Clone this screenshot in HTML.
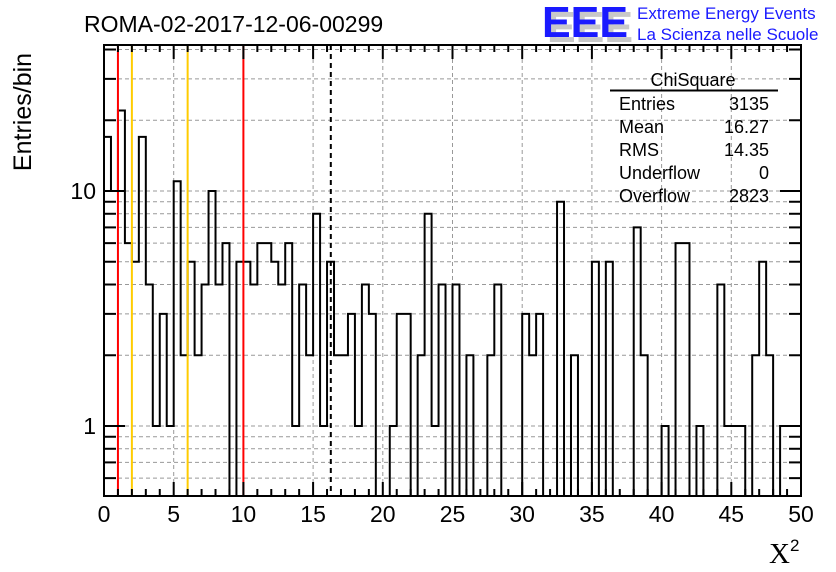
<!DOCTYPE html>
<html><head><meta charset="utf-8"><style>
html,body{margin:0;padding:0;background:#fff}
svg{display:block;font-family:"Liberation Sans",sans-serif}
</style></head><body>
<svg id="chart" width="836" height="572" viewBox="0 0 836 572" xmlns="http://www.w3.org/2000/svg">
<rect x="0" y="0" width="836" height="572" fill="#fff"/>
<g id="grid"></g>
<g id="hist"></g>
<g id="markers"></g>
<g id="axes"></g>
<text x="84" y="32" font-size="23" fill="#000">ROMA-02-2017-12-06-00299</text>
<text transform="translate(31,112) rotate(-90)" text-anchor="middle" font-size="25" fill="#000">Entries/bin</text>
<text x="769" y="563" font-family="Liberation Serif,serif" font-size="29" fill="#000">X<tspan dy="-12" font-size="17" font-family="Liberation Sans,sans-serif">2</tspan></text>
<g>
<text x="547" y="42" font-size="44" font-weight="bold" fill="#c8c8c8" textLength="86" lengthAdjust="spacingAndGlyphs">EEE</text>
<text x="542" y="37" font-size="44" font-weight="bold" fill="#1a1aff" textLength="86" lengthAdjust="spacingAndGlyphs">EEE</text>
<text x="637" y="19" font-size="17" fill="#1a1aff">Extreme Energy Events</text>
<text x="637" y="40" font-size="17" fill="#1a1aff">La Scienza nelle Scuole</text>
</g>
<g font-size="18" fill="#000">
<text x="693" y="86" text-anchor="middle">ChiSquare</text>
<line x1="610" y1="90.5" x2="778" y2="90.5" stroke="#000" stroke-width="2"/>
<text x="619" y="110">Entries</text><text x="769" y="110" text-anchor="end">3135</text>
<text x="619" y="133">Mean</text><text x="769" y="133" text-anchor="end">16.27</text>
<text x="619" y="156">RMS</text><text x="769" y="156" text-anchor="end">14.35</text>
<text x="619" y="179">Underflow</text><text x="769" y="179" text-anchor="end">0</text>
<text x="619" y="202">Overflow</text><text x="769" y="202" text-anchor="end">2823</text>
</g>
</svg>
<script>
const counts = [17,10,22,6,5,17,4,1,3,1,11,2,5,2,4,10,4,6,0,5,
5,4,6,6,5,4,6,1,4,2,8,1,5,2,2,3,1,4,3,0,
0,1,3,3,0,2,8,1,4,0,4,0,2,0,0,2,4,0,0,0,
3,2,3,0,0,9,0,2,0,0,5,0,5,0,0,0,7,2,0,0,
1,0,6,6,0,1,0,0,4,1,1,1,0,2,5,2,0,1,1,1];
const xRange = [0, 50];
const xTickLabels = [0,5,10,15,20,25,30,35,40,45,50];
const yTickLabels = [1,10];
const gridLevels = [0.6,0.7,0.8,0.9,1,2,3,4,5,6,7,8,9,10,20,30,40];
const redLines = [1,10];
const yellowLines = [2,6];
const meanValue = [16.27];

const L=104,R=801,T=45,B=496;
const NS="http://www.w3.org/2000/svg";
function X(v){return L+(v-xRange[0])/(xRange[1]-xRange[0])*(R-L);}
function Y(v){if(v<=0)return B;return Math.min(B,426-235*Math.log10(v));}
function mk(tag,attrs,parent){const e=document.createElementNS(NS,tag);for(const k in attrs)e.setAttribute(k,attrs[k]);parent.appendChild(e);return e;}
const grid=document.getElementById('grid'),hist=document.getElementById('hist'),mk2=document.getElementById('markers'),axes=document.getElementById('axes');

for(let v=5;v<50;v+=5){
  const l=mk('line',{x1:X(v),x2:X(v),y1:T,y2:B,stroke:'#999','stroke-width':1,'stroke-dasharray':'4 3'},grid);
  
  
}
gridLevels.forEach(g=>{
  const y=Y(g);if(y<T||y>=B)return;
  const l=mk('line',{x1:L,x2:R,y1:y,y2:y,stroke:'#999','stroke-width':1,'stroke-dasharray':'4 3'},grid);
  
  
});

const nb=counts.length,w=(xRange[1]-xRange[0])/nb;
let d='M'+X(0)+','+B;
counts.forEach((c,i)=>{const y=Y(c);d+=' L'+X(i*w)+','+y+' L'+X((i+1)*w)+','+y;});
d+=' L'+X(50)+','+B;
const p=mk('path',{d:d,fill:'none',stroke:'#000','stroke-width':2},hist);



redLines.forEach(v=>{const l=mk('line',{x1:X(v),x2:X(v),y1:T,y2:B,stroke:'#ff0000','stroke-width':2},mk2);
  
  });
yellowLines.forEach(v=>{const l=mk('line',{x1:X(v),x2:X(v),y1:T,y2:B,stroke:'#ffcc00','stroke-width':2},mk2);
  
  });
meanValue.forEach(v=>{const l=mk('line',{x1:X(v),x2:X(v),y1:T,y2:B,stroke:'#000','stroke-width':2,'stroke-dasharray':'5 4'},mk2);
  
  });

const fr=mk('rect',{x:L,y:T,width:R-L,height:B-T,fill:'none',stroke:'#000','stroke-width':2},axes);


for(let v=0;v<=50;v++){
  const len=(v%5===0)?14:7;
  mk('line',{x1:X(v),x2:X(v),y1:B,y2:B-len,stroke:'#000','stroke-width':2},axes);
  mk('line',{x1:X(v),x2:X(v),y1:T,y2:T+len,stroke:'#000','stroke-width':2},axes);
}
xTickLabels.forEach(v=>{const t=mk('text',{x:X(v),y:522,'text-anchor':'middle','font-size':23,fill:'#000'},axes);t.textContent=v;
  
  });
gridLevels.forEach(g=>{
  const y=Y(g);if(y<T||y>=B)return;
  const len=(g===1||g===10)?21:12;
  mk('line',{x1:L,x2:L+len,y1:y,y2:y,stroke:'#000','stroke-width':2},axes);
  mk('line',{x1:R,x2:R-len,y1:y,y2:y,stroke:'#000','stroke-width':2},axes);
});
yTickLabels.forEach(v=>{const t=mk('text',{x:96,y:Y(v)+8,'text-anchor':'end','font-size':23,fill:'#000'},axes);t.textContent=v;
  
  });
</script>
</body></html>
